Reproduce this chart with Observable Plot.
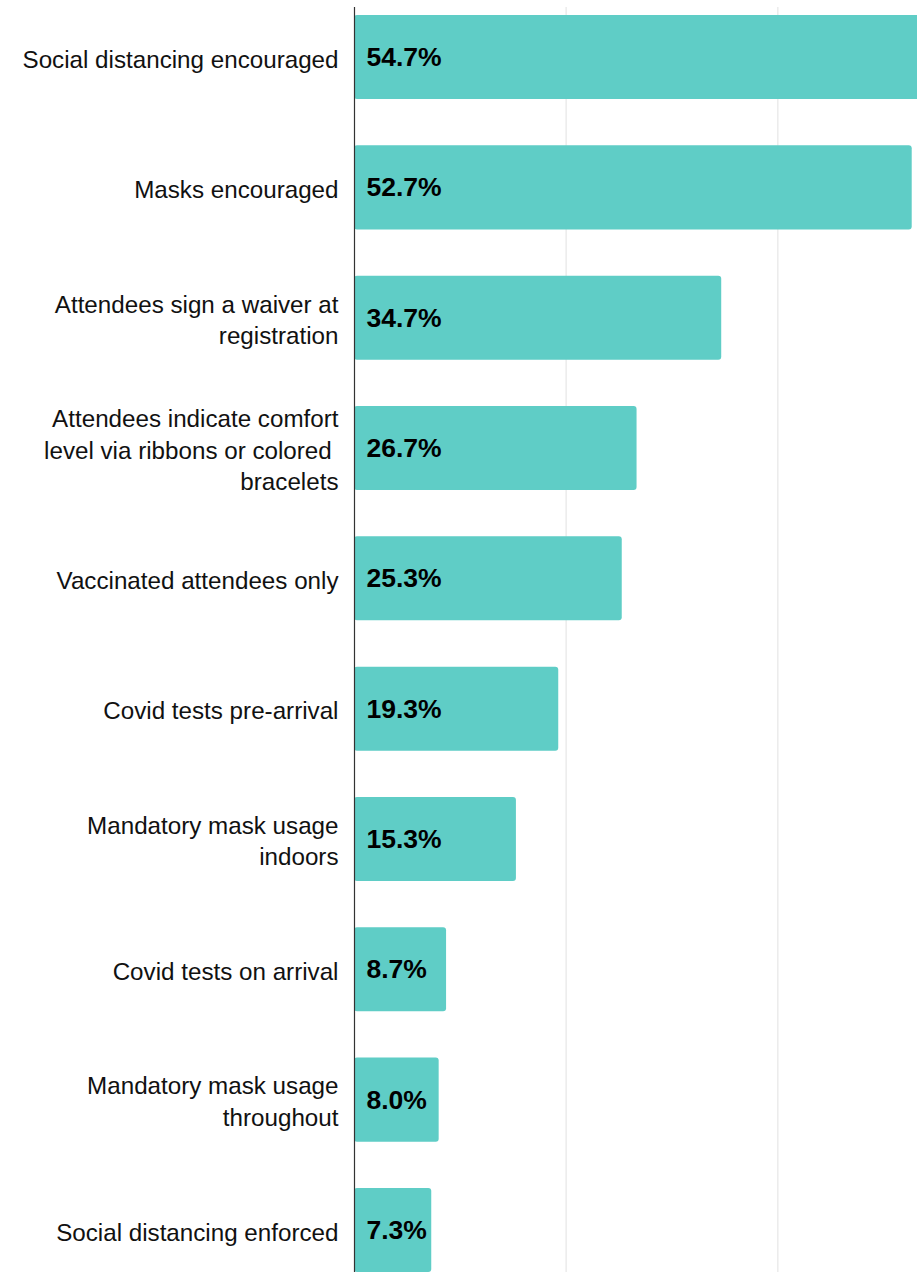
<!DOCTYPE html>
<html>
<head>
<meta charset="utf-8">
<script src="https://cdn.jsdelivr.net/npm/d3@7"></script>
<script src="https://cdn.jsdelivr.net/npm/@observablehq/plot@0.6"></script>
<style>
  html, body { margin: 0; padding: 0; background: #fff; overflow: hidden; }
  #chart svg { display: block; }
</style>
</head>
<body>
<div id="chart"></div>
<script>
const categories = [
  "Social distancing encouraged",
  "Masks encouraged",
  "Attendees sign a waiver at\nregistration",
  "Attendees indicate comfort\nlevel via ribbons or colored \nbracelets",
  "Vaccinated attendees only",
  "Covid tests pre-arrival",
  "Mandatory mask usage\nindoors",
  "Covid tests on arrival",
  "Mandatory mask usage\nthroughout",
  "Social distancing enforced"
];
const values = [54.7, 52.7, 34.7, 26.7, 25.3, 19.3, 15.3, 8.7, 8.0, 7.3];
const gridTicks = [20, 40];

const data = categories.map((c, i) => ({category: c, value: values[i]}));

const W = 917, H = 1272;
const chart = Plot.plot({
  width: W,
  height: H,
  marginLeft: 354,
  marginRight: 0,
  marginTop: 7,
  marginBottom: 0,
  style: {fontFamily: "'Liberation Sans', Arial, sans-serif", background: "#fff"},
  x: {domain: [0, 53.2], axis: null},
  y: {
    domain: categories,
    range: [7, 1280],
    paddingInner: 0.355,
    paddingOuter: 0.0614,
    round: false,
    axis: null
  },
  marks: [
    Plot.ruleX(gridTicks, {stroke: "#ebebeb", strokeWidth: 1.5}),
    Plot.barX(data, {
      x: "value",
      y: "category",
      fill: "#5fcdc6",
      rx: 3,
      clip: true
    }),
    Plot.ruleX([0], {stroke: "#333", strokeWidth: 1.2}),
    Plot.text(data, {
      x: 0,
      y: "category",
      text: "category",
      textAnchor: "end",
      dx: -16,
      fontSize: 24.2,
      lineHeight: 1.3,
      fill: "#111"
    }),
    Plot.text(data, {
      x: 0,
      y: "category",
      text: d => d.value.toFixed(1) + "%",
      textAnchor: "start",
      dx: 12,
      fontSize: 26.5,
      fontWeight: "bold",
      fill: "#000"
    })
  ]
});
document.getElementById("chart").append(chart);
</script>
</body>
</html>
